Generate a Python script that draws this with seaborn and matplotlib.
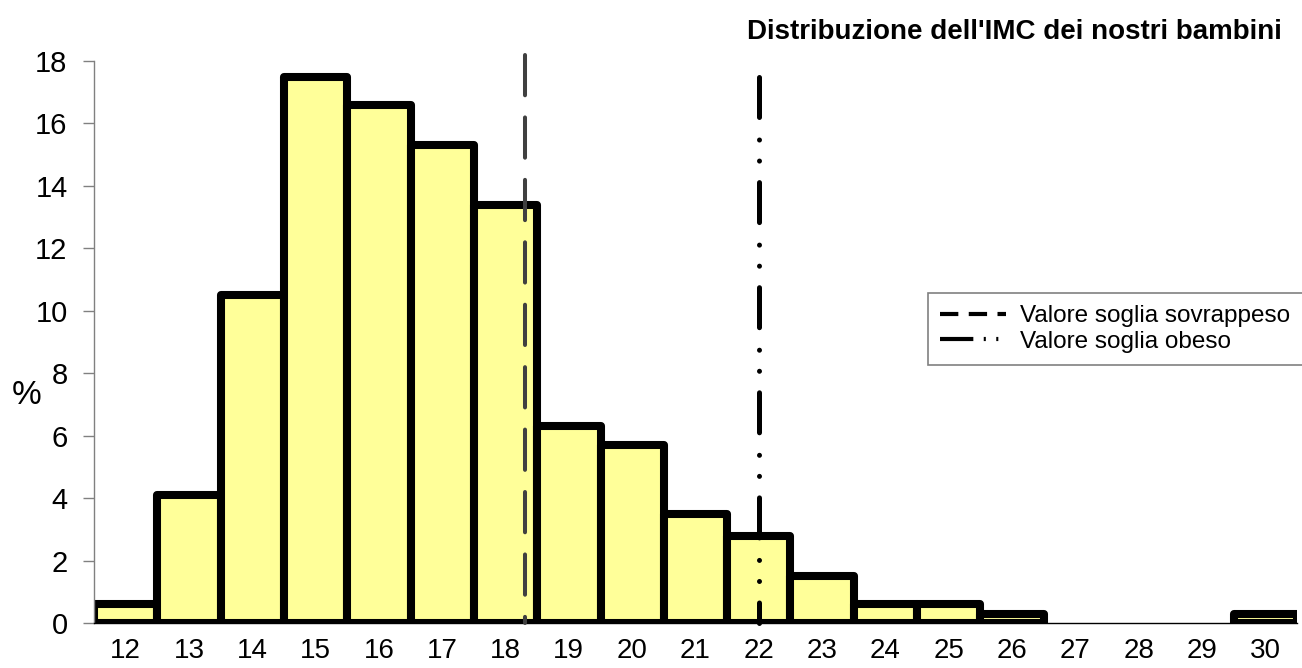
import numpy as np
import pandas as pd
import seaborn as sns
import matplotlib.pyplot as plt
from matplotlib.lines import Line2D

# dati
imc = [12, 13, 14, 15, 16, 17, 18, 19, 20, 21, 22, 23, 24, 25, 26, 27, 28, 29, 30]
percentuale = [0.6, 4.1, 10.5, 17.5, 16.6, 15.3, 13.4, 6.3, 5.7, 3.5, 2.8, 1.5,
               0.6, 0.6, 0.3, 0, 0, 0, 0.3]
soglia_sovrappeso = 18.3
soglia_obeso = 22.0
altezza_obeso = 17.5
y_ticks = [0, 2, 4, 6, 8, 10, 12, 14, 16, 18]

df = pd.DataFrame({'imc': [str(v) for v in imc], 'perc': percentuale})

sns.set_style('white')
plt.rcParams['font.family'] = ['Liberation Sans', 'DejaVu Sans']
plt.rcParams['text.color'] = 'black'

fig = plt.figure(figsize=(13.02, 6.68), dpi=100)
ax = fig.add_axes([94 / 1302, 45 / 668, 1203 / 1302, 562 / 668])

sns.barplot(data=df, x='imc', y='perc', color='#FFFF99', saturation=1,
            edgecolor='black', linewidth=5.8, width=1, ax=ax)
for p in ax.patches:
    p.set_joinstyle('round')
    if p.get_height() == 0:
        p.set_linewidth(0)

# posizione sulle categorie (prima categoria = 0); linee disegnate dall'alto
x_sovr = soglia_sovrappeso - imc[0]
x_obeso = soglia_obeso - imc[0]
ax.plot([x_sovr, x_sovr], [18.2, 0], color='#404040', lw=2.9,
        linestyle=(0, (10, 5.5)), dash_capstyle='round', clip_on=False, zorder=5)
ax.plot([x_obeso, x_obeso], [altezza_obeso, 0], color='black', lw=3.6,
        linestyle=(0, (8, 4.5, 0.01, 4.2, 0.01, 4.3)), dash_capstyle='round',
        clip_on=False, zorder=5)

ax.set_xlim(-0.5, len(imc) - 0.5)
ax.set_ylim(0, 18)
ax.set_yticks(y_ticks)
ax.set_xticks(range(len(imc)))
ax.set_xticklabels([str(v) for v in imc])
ax.set_xticks(np.arange(-0.5, len(imc), 1), minor=True)
ax.tick_params(axis='x', which='major', length=0, pad=11, labelsize=20, labelcolor='black')
ax.tick_params(axis='x', which='minor', length=8, width=1, color='#808080', direction='out')
ax.tick_params(axis='y', length=8, width=1, color='#808080', direction='out',
               pad=11, labelsize=21, labelcolor='black', left=True)
ax.set_xlabel('')
ax.set_ylabel('')

for s in ['top', 'right']:
    ax.spines[s].set_visible(False)
ax.spines['left'].set_color('#808080')
ax.spines['left'].set_linewidth(1)
ax.spines['bottom'].set_color('black')
ax.spines['bottom'].set_linewidth(1)

fig.text(27 / 1302, 1 - 395 / 668, '%', fontsize=24, ha='center', va='center')
fig.text(1282 / 1302, 1 - 32 / 668, "Distribuzione dell'IMC dei nostri bambini",
         fontsize=20, fontweight='bold', ha='right', va='center')

handles = [
    Line2D([], [], color='black', lw=3, linestyle=(0, (4.4, 2.5))),
    Line2D([], [], color='black', lw=3, linestyle=(0, (8, 2.5, 0.5, 2.5, 0.5, 2.5, 0.5, 3))),
]
leg = fig.legend(handles, ['Valore soglia sovrappeso', 'Valore soglia obeso'],
                 loc='upper left', bbox_to_anchor=(928 / 1302, 1 - 293 / 668),
                 bbox_transform=fig.transFigure, borderaxespad=0, fancybox=False,
                 fontsize=17.5, handlelength=2.7, handletextpad=0.6, labelspacing=0.15,
                 borderpad=0.5, framealpha=1)
leg.get_frame().set_edgecolor('#808080')
leg.get_frame().set_linewidth(1.2)

fig.savefig('out.png', dpi=100)
